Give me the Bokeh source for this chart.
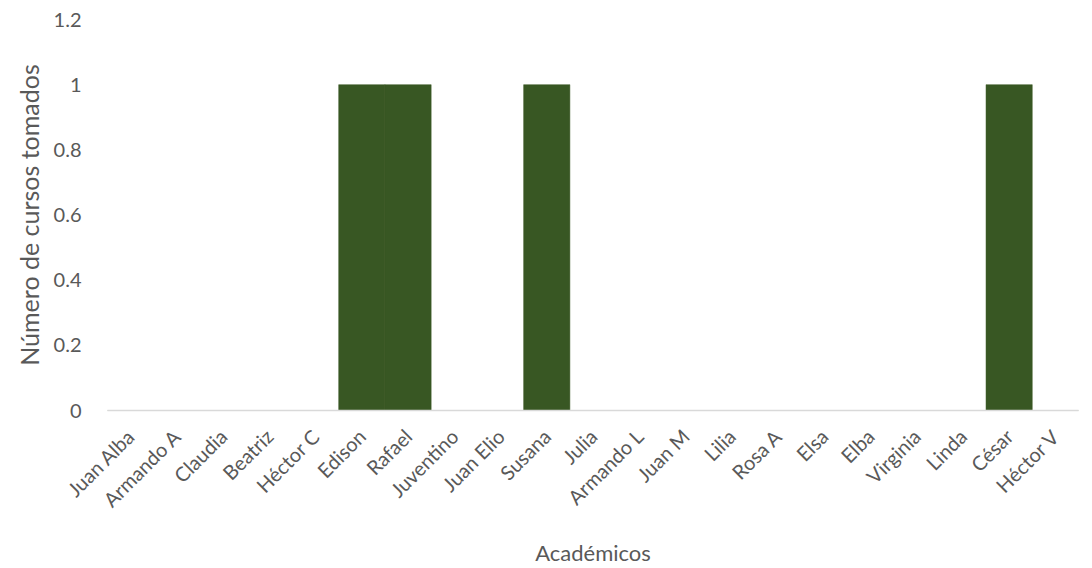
import math
from bokeh.plotting import figure
from bokeh.models import ColumnDataSource, Range1d, FixedTicker
from bokeh.embed import file_html
from bokeh.resources import INLINE

academicos = ["Juan Alba", "Armando A", "Claudia", "Beatriz", "Héctor C", "Edison",
              "Rafael", "Juventino", "Juan Elio", "Susana", "Julia", "Armando L",
              "Juan M", "Lilia", "Rosa A", "Elsa", "Elba", "Virginia", "Linda",
              "César", "Héctor V"]
cursos = [0, 0, 0, 0, 0, 1, 1, 0, 0, 1, 0, 0, 0, 0, 0, 0, 0, 0, 0, 1, 0]
y_ticks = [0, 0.2, 0.4, 0.6, 0.8, 1, 1.2]
y_tick_labels = {0: "0", 0.2: "0.2", 0.4: "0.4", 0.6: "0.6", 0.8: "0.8", 1: "1", 1.2: "1.2"}

FONT = "Lato"
GREY = "#595959"

src = ColumnDataSource(dict(x=academicos, y=cursos))

p = figure(x_range=academicos, y_range=Range1d(0, 1.2), width=1084, height=568,
           output_backend="svg", toolbar_location=None,
           min_border_left=107, min_border_right=6, min_border_top=19, min_border_bottom=157)
p.vbar(x="x", top="y", width=1.0, source=src, fill_color="#385723",
       line_color="#385723", line_width=0.5)

p.outline_line_color = None
p.xgrid.grid_line_color = None
p.ygrid.grid_line_color = None

p.yaxis.ticker = FixedTicker(ticks=y_ticks)
p.yaxis.major_label_overrides = y_tick_labels
p.yaxis.axis_line_color = None
p.yaxis.major_tick_line_color = None
p.yaxis.minor_tick_line_color = None
p.yaxis.major_label_standoff = 20
p.yaxis.major_label_text_font = FONT
p.yaxis.major_label_text_font_size = "20px"
p.yaxis.major_label_text_color = GREY
p.yaxis.axis_label = "Número de cursos tomados"
p.yaxis.axis_label_text_font = FONT
p.yaxis.axis_label_text_font_size = "25px"
p.yaxis.axis_label_text_font_style = "normal"
p.yaxis.axis_label_text_color = GREY
p.yaxis.axis_label_standoff = 7

p.xaxis.axis_line_color = "#d9d9d9"
p.xaxis.axis_line_width = 1.5
p.xaxis.major_tick_line_color = None
p.xaxis.minor_tick_line_color = None
p.xaxis.major_label_orientation = math.pi / 4
p.xaxis.major_label_standoff = 16
p.xaxis.major_label_text_font = FONT
p.xaxis.major_label_text_font_size = "20px"
p.xaxis.major_label_text_color = GREY
p.xaxis.axis_label = "Académicos"
p.xaxis.axis_label_text_font = FONT
p.xaxis.axis_label_text_font_size = "22px"
p.xaxis.axis_label_text_font_style = "normal"
p.xaxis.axis_label_text_color = GREY
p.xaxis.axis_label_standoff = 16

open("out.html", "w").write(file_html(p, INLINE))
